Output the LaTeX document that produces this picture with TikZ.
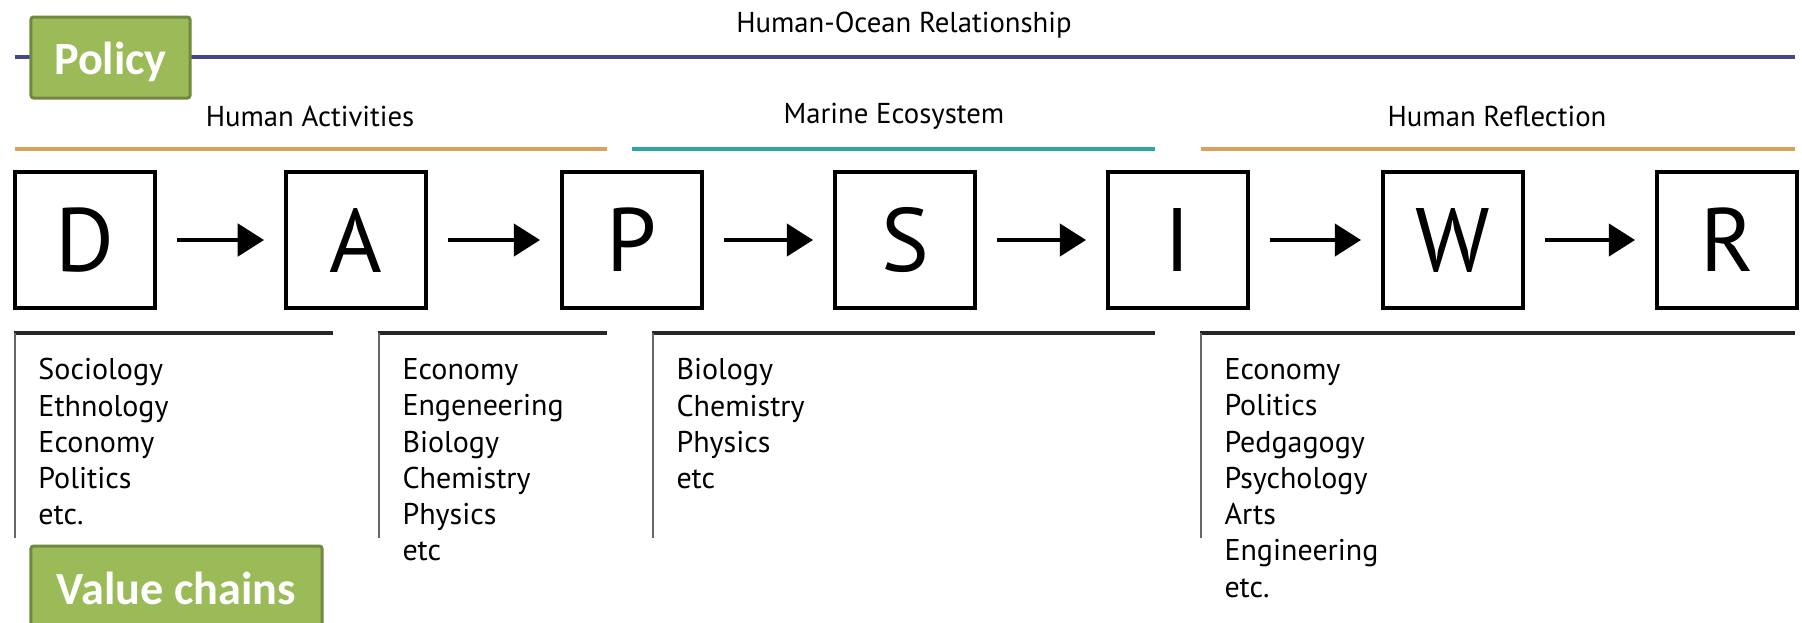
\documentclass[tikz,border=0pt]{standalone}
\usepackage{fontspec}
\setmainfont{PT Sans}
\newfontfamily\calib{Carlito}
\usetikzlibrary{arrows.meta}
\definecolor{purp}{HTML}{47458E}
\definecolor{orng}{HTML}{DBA05E}
\definecolor{teal2}{HTML}{2AA6A4}
\definecolor{olive}{HTML}{9BBB59}
\definecolor{olivedk}{HTML}{71893F}
\begin{document}
\begin{tikzpicture}[x=0.4pt,y=-0.4pt,
  letterbox/.style={draw, line width=1.6pt, minimum width=56pt, minimum height=54.4pt, inner sep=0pt, font=\fontsize{36}{36}\selectfont},
  head/.style={font=\fontsize{11.5}{13}\selectfont, inner sep=0pt},
  flow/.style={-{Triangle[length=10.5pt,width=13pt]}, line width=1.3pt, shorten <=8pt, shorten >=8pt},
  hline/.style={line width=1.6pt},
  brkh/.style={line width=1.4pt, black!85},
  brkv/.style={line width=1pt, black!60},
  lst/.style={anchor=north west, align=left, inner sep=0pt, font=\fontsize{12}{14.5}\selectfont},
  greenlbl/.style={fill=olive, draw=olivedk, line width=1.2pt, rounded corners=1pt, text=white, font=\calib\bfseries\fontsize{18.5}{20}\selectfont, inner sep=0pt}
]
\useasboundingbox (0,0) rectangle (1802,622);
\fill[white] (0,0) rectangle (1802,622);

% top headings and lines
\node[head] (hor) at (904,25) {Human-Ocean Relationship};
\draw[hline, purp] (15,57) -- (1795,57);
\node[greenlbl, minimum width=63.6pt, minimum height=32.4pt, text depth=0pt] (policy) at (110.5,57.5) {\raisebox{-0.8pt}{Policy}};

\node[head] (ha) at (310,116) {Human Activities};
\node[head] (me) at (894,116) {Marine Ecosystem};
\node[head] (hr) at (1497,116) {Human Reflection};
\draw[hline, orng] (15,149) -- (607,149);
\draw[hline, teal2] (632,149) -- (1155,149);
\draw[hline, orng] (1201,149) -- (1795,149);

% letter boxes
\node[letterbox] (D) at (85,240) {D};
\node[letterbox] (A) at (356,240) {A};
\node[letterbox] (P) at (632,240) {P};
\node[letterbox] (S) at (905,240) {S};
\node[letterbox] (I) at (1178,240) {I};
\node[letterbox] (W) at (1453,240) {W};
\node[letterbox] (R) at (1727,240) {R};
\draw[flow] (D) -- (A);
\draw[flow] (A) -- (P);
\draw[flow] (P) -- (S);
\draw[flow] (S) -- (I);
\draw[flow] (I) -- (W);
\draw[flow] (W) -- (R);

% brackets
\draw[brkh] (14,333) -- (333,333);
\draw[brkv] (15,333) -- (15,538);
\draw[brkh] (378,333) -- (607,333);
\draw[brkv] (379,333) -- (379,538);
\draw[brkh] (652,333) -- (1155,333);
\draw[brkv] (653,333) -- (653,538);
\draw[brkh] (1200,333) -- (1795,333);
\draw[brkv] (1201,333) -- (1201,538);

% lists
\node[lst] (l1) at (38,358) {Sociology\\Ethnology\\Economy\\Politics\\etc.};
\node[lst] (l2) at (402,358) {Economy\\Engeneering\\Biology\\Chemistry\\Physics\\etc};
\node[lst] (l3) at (676,358) {Biology\\Chemistry\\Physics\\etc};
\node[lst] (l4) at (1224,358) {Economy\\Politics\\Pedgagogy\\Psychology\\Arts\\Engineering\\etc.};

\node[greenlbl, minimum width=116.4pt, minimum height=33.6pt] (vc) at (176.5,588) {Value chains};
\end{tikzpicture}
\end{document}
